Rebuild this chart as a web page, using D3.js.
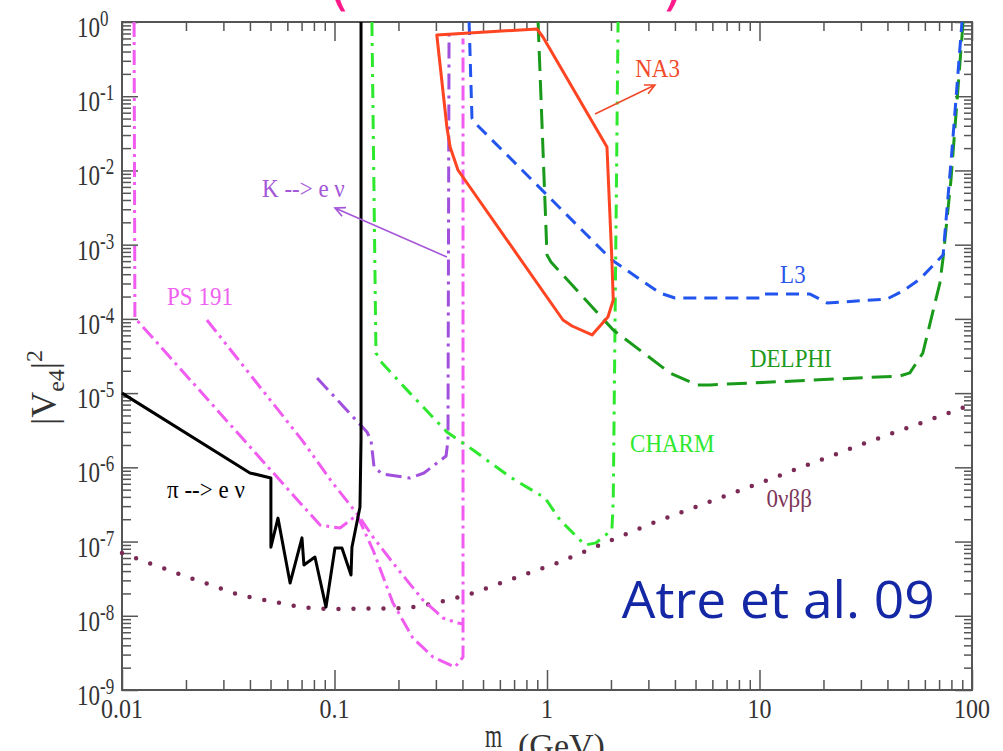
<!DOCTYPE html>
<html>
<head>
<meta charset="utf-8">
<script src="https://cdn.jsdelivr.net/npm/d3@7/dist/d3.min.js"></script>
<style>
  body { margin: 0; background: #fff; }
  text { font-family: "Liberation Serif", "Times New Roman", serif; }
</style>
</head>
<body>
<svg id="chart" width="1003" height="751"></svg>
<script>
const WIDTH = 1003;
const HEIGHT = 751;
const margin = { left: 122, right: 31, top: 22, bottom: 61 };

// axis ticks
const xMajor = [0.01, 0.1, 1, 10, 100];
const xLabels = ["0.01", "0.1", "1", "10", "100"];
const yExponents = [0, -1, -2, -3, -4, -5, -6, -7, -8, -9];

// curves: [mass (GeV), |V_e4|^2]
const piENu = [[0.01, 1.0e-5], [0.040, 8.4e-7], [0.0502, 7.2e-7], [0.0502, 8.4e-8], [0.0542, 2.07e-7],
  [0.0618, 2.76e-8], [0.0703, 1.12e-7], [0.0718, 4.83e-8], [0.0809, 6.19e-8], [0.0912, 1.31e-8],
  [0.1005, 8.2e-8], [0.1084, 8.2e-8], [0.1196, 3.54e-8], [0.1208, 8.4e-8], [0.1318, 2.92e-7],
  [0.1333, 2.33e-6], [0.1333, 1]];
const kENu = [[0.0828, 1.6e-5], [0.1422, 2.99e-6], [0.1485, 2.33e-6], [0.1535, 1.01e-6], [0.1675, 8.13e-7],
  [0.2265, 7.18e-7], [0.2636, 8.38e-7], [0.335, 1.42e-6], [0.342, 2.33e-6], [0.346, 0.78]];
const ps191a = [[0.0114, 1], [0.0115, 1.03e-4], [0.0638, 4.24e-7], [0.0855, 1.67e-7], [0.1062, 1.52e-7],
  [0.1276, 2.28e-7], [0.1518, 7.69e-8], [0.1884, 1.49e-8], [0.2339, 5.0e-9], [0.291, 2.78e-9],
  [0.369, 2.04e-9], [0.4025, 2.78e-9], [0.4025, 0.6]];
const ps191b = [[0.0251, 9.66e-5], [0.0703, 2.33e-6], [0.0973, 6.34e-7], [0.129, 2.28e-7], [0.1518, 1.15e-7],
  [0.1968, 4.4e-8], [0.2606, 1.63e-8], [0.3245, 9.33e-9], [0.381, 7.98e-9], [0.4025, 7.74e-9]];
const charm = [[0.150, 1], [0.1567, 3.47e-5], [0.1675, 2.54e-5], [0.2265, 1.0e-5], [0.338, 2.99e-6],
  [0.449, 1.71e-6], [0.670, 7.41e-7], [0.980, 3.86e-7], [1.151, 1.95e-7], [1.51, 8.98e-8],
  [1.70, 9.6e-8], [2.02, 1.43e-7], [2.05, 3.63e-7], [2.16, 1]];
const na3 = [[0.303, 0.668], [0.897, 0.805], [0.957, 0.628], [1.915, 0.0207], [2.02, 6.21e-4],
  [2.05, 1.80e-4], [1.935, 1.06e-4], [1.629, 6.07e-5], [1.312, 8.02e-5], [1.189, 9.66e-5],
  [0.381, 0.01014], [0.350, 0.0207], [0.338, 0.0385]];
const l3 = [[0.430, 1], [0.4435, 0.0509], [0.469, 0.0409], [2.02, 6.21e-4], [3.40, 2.23e-4],
  [4.0, 1.91e-4], [10.05, 1.91e-4], [10.3, 2.16e-4], [17.3, 2.16e-4], [20.8, 1.64e-4],
  [39.8, 1.85e-4], [47.3, 2.38e-4], [56.9, 3.44e-4], [73.1, 7.26e-4], [80.5, 0.0188], [89.7, 1]];
const delphi = [[0.908, 1], [1.0, 7.26e-4], [1.044, 5.84e-4], [2.05, 7.08e-5], [3.79, 1.87e-5],
  [5.08, 1.29e-5], [5.85, 1.29e-5], [45.8, 1.70e-5], [51.0, 1.87e-5], [58.7, 3.47e-5],
  [70.6, 3.04e-4], [73.1, 6.61e-4], [79.6, 7.43e-3], [90.8, 1]];
const bb0nu = [[0.01, 7.0e-8], [0.01914, 3.54e-8], [0.0359, 1.9e-8], [0.0689, 1.31e-8], [0.0953, 1.23e-8],
  [0.2218, 1.27e-8], [0.303, 1.49e-8], [0.421, 1.9e-8], [1.114, 5.14e-8], [3.22, 1.83e-7],
  [10.05, 6.15e-7], [29.7, 2.0e-6], [92.7, 6.5e-6]];

// label text and anchor (mass, |V|^2)
const labels = [
  { text: "NA3", m: 2.6, v: 0.18, color: "#f04a2a" },
  { text: "K --> e \u03bd", m: 0.0456, v: 4.39e-3, color: "#a455d8" },
  { text: "PS 191", m: 0.0163, v: 1.54e-4, color: "#f060f0" },
  { text: "\u03c0 --> e \u03bd", m: 0.0163, v: 3.86e-7, color: "#000" },
  { text: "L3", m: 12.5, v: 3.04e-4, color: "#2a55e8" },
  { text: "DELPHI", m: 9.02, v: 2.25e-5, color: "#1d9a1d" },
  { text: "CHARM", m: 2.46, v: 1.61e-6, color: "#2ee82e" },
  { text: "0\u03bd\u03b2\u03b2", m: 10.8, v: 2.92e-7, color: "#7d3558" }
];
const kArrow = [[0.338, 6.82e-4], [0.1005, 3.12e-3]];
const na3Arrow = [[1.683, 0.0576], [3.22, 0.1416]];

const svg = d3.select("#chart");
const x = d3.scaleLog().domain([0.01, 100]).range([margin.left, WIDTH - margin.right]);
const y = d3.scaleLog().domain([1e-9, 1]).range([HEIGHT - margin.bottom, margin.top]);
const x0 = margin.left, x1 = WIDTH - margin.right, y0 = HEIGHT - margin.bottom, y1 = margin.top;

function minors(lo, hi) {
  let out = [];
  for (let e = lo; e < hi; e++) for (let k = 2; k <= 9; k++) out.push(k * Math.pow(10, e));
  return out;
}
const xMinor = minors(-2, 2);
const yMinor = minors(-9, 0);
const yMajor = yExponents.map(e => Math.pow(10, e));

// ticks
const axisColor = "#555";
function tickAxis(axis, vals, size, tf) {
  const g = svg.append("g").attr("transform", tf)
    .call(axis.tickValues(vals).tickSize(size).tickFormat(""));
  g.select(".domain").remove();
  g.selectAll("line").attr("stroke", axisColor).attr("stroke-width", 1.5);
}
tickAxis(d3.axisBottom(x), xMinor, -10, `translate(0,${y0})`);
tickAxis(d3.axisBottom(x), xMajor, -20, `translate(0,${y0})`);
tickAxis(d3.axisTop(x), xMinor, -9, `translate(0,${y1})`);
tickAxis(d3.axisTop(x), xMajor, -19, `translate(0,${y1})`);
tickAxis(d3.axisLeft(y), yMinor, -9, `translate(${x0},0)`);
tickAxis(d3.axisLeft(y), yMajor, -16, `translate(${x0},0)`);
tickAxis(d3.axisRight(y), yMinor, -8, `translate(${x1},0)`);
tickAxis(d3.axisRight(y), yMajor, -17, `translate(${x1},0)`);

svg.append("rect").attr("x", x0).attr("y", y1).attr("width", x1 - x0).attr("height", y0 - y1)
  .attr("fill", "none").attr("stroke", axisColor).attr("stroke-width", 2);

function stretched(px, py, str, size, sy, anchor, color) {
  return svg.append("text")
    .attr("transform", `translate(${px},${py}) scale(1,${sy})`)
    .attr("text-anchor", anchor || "start")
    .attr("font-size", size)
    .attr("fill", color || "#333")
    .text(str);
}

// tick labels
xMajor.forEach((v, i) => stretched(x(v), 718, xLabels[i], 24, 1.1, "middle"));
yExponents.forEach(e => {
  const ty = y(Math.pow(10, e));
  stretched(100, ty + 15, "10", 23, 1.3, "end");
  stretched(100, ty + 4, String(e), 17, 1.3, "start");
});

// curves
const line = d3.line().x(d => x(d[0])).y(d => y(d[1]));
const plot = svg.append("g");
function curve(data, color, dash, width, closed) {
  return plot.append("path")
    .attr("d", line(data) + (closed ? "Z" : ""))
    .attr("fill", "none")
    .attr("stroke", color)
    .attr("stroke-width", width || 3)
    .attr("stroke-dasharray", dash || null)
    .attr("stroke-linejoin", "round");
}
curve(bb0nu, "#7a2a55", "0,15", 4.5).attr("stroke-linecap", "round");
curve(ps191a, "#f05cf0", "15,5,3,5");
curve(ps191b, "#f05cf0", "15,5,3,5,3,5");
curve(kENu, "#a050dd", "16,6,3,6");
curve(charm, "#2ee82e", "14,7,3,7");
curve(delphi, "#1a9a1a", "20,9");
curve(l3, "#2255ee", "13,8");
curve(na3, "#ff4422", null, 3, true);
curve(piENu, "#000", null, 3);

// arrows
function arrow(pts, color) {
  const a = [x(pts[0][0]), y(pts[0][1])], b = [x(pts[1][0]), y(pts[1][1])];
  const ang = Math.atan2(b[1] - a[1], b[0] - a[0]);
  const L = 11, w = 0.45;
  const p1 = [b[0] - L * Math.cos(ang - w), b[1] - L * Math.sin(ang - w)];
  const p2 = [b[0] - L * Math.cos(ang + w), b[1] - L * Math.sin(ang + w)];
  svg.append("path")
    .attr("d", `M${a}L${b}M${p1}L${b}L${p2}`)
    .attr("fill", "none").attr("stroke", color).attr("stroke-width", 1.6);
}
arrow(kArrow, "#a455d8");
arrow(na3Arrow, "#f04a2a");

labels.forEach(l => stretched(x(l.m), y(l.v), l.text, 23, 1.12, "start", l.color));

// big blue citation
svg.append("text")
  .attr("x", x(2.25)).attr("y", y(9.3e-9))
  .style("font-family", "'Open Sans', 'Noto Sans', sans-serif")
  .attr("font-size", 52)
  .attr("textLength", 313).attr("lengthAdjust", "spacingAndGlyphs")
  .attr("fill", "#1428a6")
  .text("Atre et al. 09");

// axis titles
const yt = svg.append("text")
  .attr("transform", "translate(56,425) rotate(-90)")
  .attr("font-size", 36).attr("fill", "#333");
yt.append("tspan").text("|V");
yt.append("tspan").attr("font-size", 24).attr("dy", 8).text("e4");
yt.append("tspan").attr("dy", -8).text("|");
yt.append("tspan").attr("font-size", 24).attr("dy", -14).text("2");

// x title: the slide crops it, so the subscript N sits just below the edge
stretched(485, 747, "m", 22, 1.5, "start", "#333");
stretched(503, 766, "N", 18, 1.3, "start", "#333");
stretched(518, 757, "(GeV)", 34, 1, "start", "#333");

// cut-off title parentheses at the top edge
[["(", 328], [")", 662]].forEach(p => {
  svg.append("text").attr("x", p[1]).attr("y", 4)
    .style("font-family", "'DejaVu Sans', sans-serif")
    .attr("font-size", 56).attr("fill", "#ff1a8c").text(p[0]);
});
</script>
</body>
</html>
